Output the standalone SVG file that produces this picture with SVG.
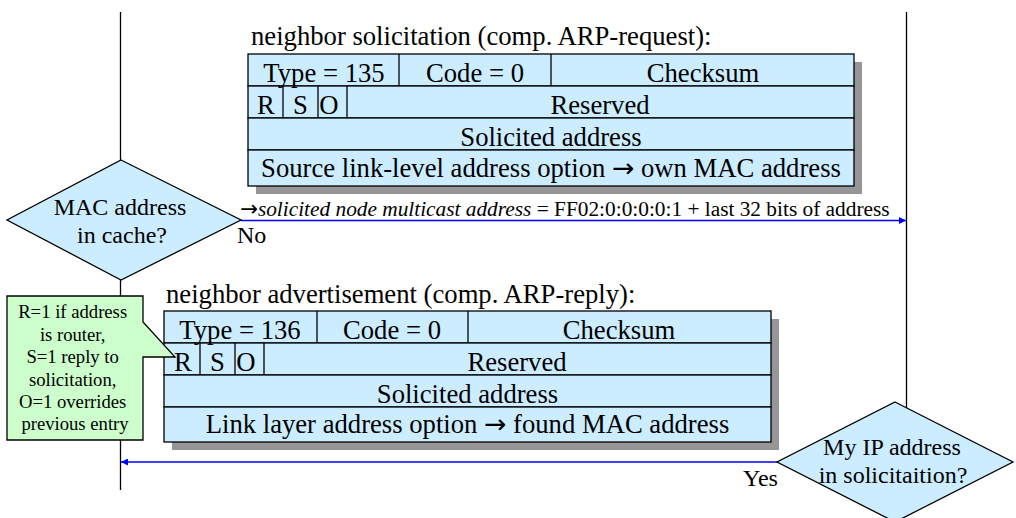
<svg xmlns="http://www.w3.org/2000/svg" width="1016" height="518" viewBox="0 0 1016 518">
  <defs>
    <style>
      .t { font-family: "Liberation Serif", "Times New Roman", serif; fill: #000; }
      .arr { font-family: "DejaVu Sans", sans-serif; }
      .f20 { font-size: 26.67px; }
      .f18 { font-size: 24px; }
      .f16 { font-size: 21.33px; }
      .f14 { font-size: 18.67px; }
      .cell { fill: #ccecff; stroke: #000; stroke-width: 1.3; }
      .shadow { fill: #969696; }
      .div { stroke: #000; stroke-width: 1.3; fill: none; }
      .life { stroke: #000; stroke-width: 1.3; fill: none; }
      .msg { stroke: #0000ff; stroke-width: 1.3; fill: none; }
      .dec { fill: #ccecff; stroke: #000; stroke-width: 1.3; }
      .note { fill: #ccffcc; stroke: #000; stroke-width: 1.3; }
    </style>
    <marker id="arrow" viewBox="0 0 10 10" refX="10" refY="5" markerWidth="8" markerHeight="7" markerUnits="userSpaceOnUse" orient="auto">
      <path d="M0,0 L10,5 L0,10 z" fill="#0000ff"/>
    </marker>
  </defs>

  <!-- lifelines -->
  <g id="lifelines">
    <line class="life" x1="120.5" y1="12" x2="120.5" y2="490"/>
    <line class="life" x1="906.5" y1="12" x2="906.5" y2="408"/>
  </g>

  <!-- message arrows -->
  <g id="connectors">
    <line class="msg" x1="241" y1="220.5" x2="906" y2="220.5" marker-end="url(#arrow)"/>
    <line class="msg" x1="777" y1="462" x2="121" y2="462" marker-end="url(#arrow)"/>
    <text class="t f16" x="240" y="216"><tspan class="arr">→</tspan><tspan font-style="italic">solicited node multicast address</tspan> = FF02:0:0:0:0:1 + last 32 bits of address</text>
    <text class="t f18" x="237" y="243">No</text>
    <text class="t f18" x="743" y="486">Yes</text>
  </g>

  <!-- decision: cache lookup -->
  <g id="dec-cache">
    <polygon class="dec" points="121,160 241,220 121,280 7,220"/>
    <text class="t f18" x="120" y="215" text-anchor="middle">MAC address</text>
    <text class="t f18" x="122" y="243" text-anchor="middle">in cache?</text>
  </g>

  <!-- decision: own IP address -->
  <g id="dec-ip">
    <polygon class="dec" points="895,402 1013,462 895,522 777,462"/>
    <text class="t f18" x="892" y="455" text-anchor="middle">My IP address</text>
    <text class="t f18" x="893" y="483" text-anchor="middle">in solicitaition?</text>
  </g>

  <!-- neighbor solicitation packet -->
  <g id="pkt-solicitation">
    <text class="t f20" x="251" y="45">neighbor solicitation (comp. ARP-request):</text>
    <rect class="shadow" x="256" y="62" width="606" height="132"/>
    <rect class="cell" x="248" y="54" width="606" height="32"/>
    <rect class="cell" x="248" y="86" width="606" height="32"/>
    <rect class="cell" x="248" y="118" width="606" height="32"/>
    <rect class="cell" x="248" y="150" width="606" height="36"/>
    <line class="div" x1="399" y1="54" x2="399" y2="86"/>
    <line class="div" x1="551" y1="54" x2="551" y2="86"/>
    <line class="div" x1="283" y1="86" x2="283" y2="118"/>
    <line class="div" x1="318" y1="86" x2="318" y2="118"/>
    <line class="div" x1="347" y1="86" x2="347" y2="118"/>
    <text class="t f20" x="324" y="82" text-anchor="middle">Type = 135</text>
    <text class="t f20" x="475" y="82" text-anchor="middle">Code = 0</text>
    <text class="t f20" x="703" y="82" text-anchor="middle">Checksum</text>
    <text class="t f20" x="266" y="114" text-anchor="middle">R</text>
    <text class="t f20" x="300.5" y="114" text-anchor="middle">S</text>
    <text class="t f20" x="329" y="114" text-anchor="middle">O</text>
    <text class="t f20" x="600" y="114" text-anchor="middle">Reserved</text>
    <text class="t f20" x="551" y="146" text-anchor="middle">Solicited address</text>
    <text class="t f20" x="551" y="177" text-anchor="middle">Source link-level address option <tspan class="arr">→</tspan> own MAC address</text>
  </g>

  <!-- neighbor advertisement packet -->
  <g id="pkt-advertisement">
    <text class="t f20" x="166" y="303">neighbor advertisement (comp. ARP-reply):</text>
    <rect class="shadow" x="172" y="319" width="607" height="131"/>
    <rect class="cell" x="164" y="311" width="607" height="32"/>
    <rect class="cell" x="164" y="343" width="607" height="32"/>
    <rect class="cell" x="164" y="375" width="607" height="32"/>
    <rect class="cell" x="164" y="407" width="607" height="35"/>
    <line class="div" x1="317" y1="311" x2="317" y2="343"/>
    <line class="div" x1="468" y1="311" x2="468" y2="343"/>
    <line class="div" x1="200" y1="343" x2="200" y2="375"/>
    <line class="div" x1="235" y1="343" x2="235" y2="375"/>
    <line class="div" x1="264" y1="343" x2="264" y2="375"/>
    <text class="t f20" x="240" y="339" text-anchor="middle">Type = 136</text>
    <text class="t f20" x="392" y="339" text-anchor="middle">Code = 0</text>
    <text class="t f20" x="619" y="339" text-anchor="middle">Checksum</text>
    <text class="t f20" x="183" y="371" text-anchor="middle">R</text>
    <text class="t f20" x="217.5" y="371" text-anchor="middle">S</text>
    <text class="t f20" x="246" y="371" text-anchor="middle">O</text>
    <text class="t f20" x="517" y="371" text-anchor="middle">Reserved</text>
    <text class="t f20" x="467.5" y="403" text-anchor="middle">Solicited address</text>
    <text class="t f20" x="467.5" y="433" text-anchor="middle">Link layer address option <tspan class="arr">→</tspan> found MAC address</text>
  </g>

  <!-- flag callout -->
  <g id="note-flags">
    <path class="note" d="M7,296 H143 V322 L175,357 H143 V440 H7 Z"/>
    <text class="t f14" text-anchor="middle">
      <tspan x="75" y="318">R=1 if address</tspan>
      <tspan x="75" y="340.5">is router,</tspan>
      <tspan x="75" y="363">S=1 reply to</tspan>
      <tspan x="75" y="385.5">solicitation,</tspan>
      <tspan x="75" y="408">O=1 overrides</tspan>
      <tspan x="75" y="430">previous entry</tspan>
    </text>
  </g>
</svg>
